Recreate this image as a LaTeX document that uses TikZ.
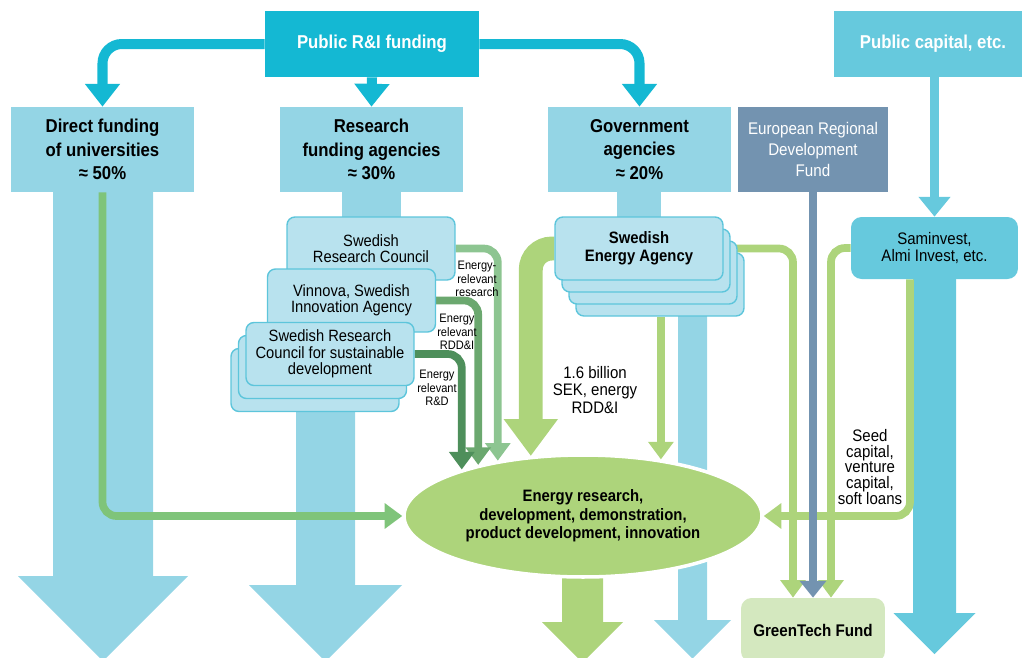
\documentclass[tikz,border=0pt]{standalone}
\usepackage{fontspec}
\setmainfont{Liberation Sans}[FakeStretch=0.9]
\usetikzlibrary{arrows.meta,shapes.geometric,calc}
\pgfdeclarelayer{bg}
\pgfdeclarelayer{links}
\pgfsetlayers{bg,links,main}
\definecolor{riblue}{HTML}{14B8D3}
\definecolor{capblue}{HTML}{66C9DD}
\definecolor{lightblue}{HTML}{94D5E5}
\definecolor{paleblue}{HTML}{B8E2EE}
\definecolor{rimblue}{HTML}{5DC5DB}
\definecolor{slate}{HTML}{7393B0}
\definecolor{leaf}{HTML}{ADD47B}
\definecolor{paleleaf}{HTML}{D4E8BF}
\definecolor{darkleaf}{HTML}{4E8F5B}
\definecolor{midleaf}{HTML}{6BA86F}
\definecolor{softleaf}{HTML}{8DC591}
\definecolor{grassleaf}{HTML}{7FC47A}
\begin{document}
\begin{tikzpicture}[
  x=0.02cm, y=-0.02cm,
  every node/.style={align=center, inner sep=0pt, font=\fontsize{9.5}{10}\selectfont},
  topbox/.style={minimum height=1.32cm, text=white, font=\bfseries\fontsize{10.6}{13}\selectfont},
  headbox/.style={fill=lightblue, minimum width=3.66cm, minimum height=1.7cm, font=\bfseries\fontsize{10.6}{13.3}\selectfont},
  agencybox/.style={fill=paleblue, draw=rimblue, line width=0.8pt, rounded corners=4.5pt,
    minimum width=3.36cm, minimum height=1.26cm, font=\fontsize{9.3}{9.3}\selectfont},
  fundarrow/.style={draw=riblue, line width=5.7pt, rounded corners=11pt, -{Triangle[width=19.3pt,length=13pt]}},
  thinarrow/.style={line width=4.4pt, rounded corners=8pt, -{Triangle[width=14pt,length=10pt]}},
  smalllabel/.style={font=\fontsize{7}{7.6}\selectfont},
  flowlabel/.style={font=\fontsize{9.5}{10.2}\selectfont}
]
\useasboundingbox (0,0) rectangle (1022,657);

% funding sources
\node[topbox, fill=riblue, minimum width=4.28cm] (pubri) at (372,44) {Public R\&I funding};
\node[topbox, fill=capblue, minimum width=3.96cm] (pubcap) at (933,44) {Public capital, etc.};

\node[headbox] (direct) at (102.5,149.5) {Direct funding\\of universities\\≈ 50\%};
\node[headbox] (rfa) at (371.5,149.5) {Research\\funding agencies\\≈ 30\%};
\node[headbox] (gov) at (639.5,149.5) {Government\\agencies\\≈ 20\%};
\node[headbox, fill=slate, minimum width=3cm, text=white, font=\fontsize{9.6}{12}\selectfont] (erdf) at (813,149.5) {European Regional\\Development\\Fund};

% research funding agencies
\node[agencybox] (src) at (371,248.5) {Swedish\\Research Council};
\node[agencybox] (vinnova) at (351.5,300.5) {Vinnova, Swedish\\Innovation Agency};
\node[agencybox] (srcsd2) at (315,380) {};
\node[agencybox] (srcsd1) at (322.5,367) {};
\node[agencybox] (srcsd) at (330,354) {Swedish Research\\Council for sustainable\\development};

% energy agency stack
\foreach \k in {3,2,1}
  \node[agencybox] (sea\k) at ({639+7*\k},{248.5+12*\k}) {};
\node[agencybox, font=\bfseries\fontsize{9.4}{10}\selectfont] (sea) at (639,248.5) {Swedish\\Energy Agency};

\node[fill=capblue, rounded corners=6pt, minimum width=3.34cm, minimum height=1.24cm] (saminvest) at (934.5,248) {Saminvest,\\Almi Invest, etc.};
\node[fill=paleleaf, rounded corners=6pt, minimum width=2.88cm, minimum height=1.28cm,
  font=\bfseries\fontsize{9.6}{10}\selectfont] (gtf) at (813,630) {GreenTech Fund};

% flow labels
\node[smalllabel] (lab1) at (477,279) {Energy-\\relevant\\research};
\node[smalllabel] (lab2) at (457,332) {Energy\\relevant\\RDD\&I};
\node[smalllabel] (lab3) at (437,388) {Energy\\relevant\\R\&D};
\node[flowlabel] (lab4) at (595,390) {1.6 billion\\SEK, energy\\RDD\&I};
\node[font=\fontsize{9.5}{9}\selectfont] (lab5) at (870,467) {Seed\\capital,\\venture\\capital,\\soft loans};

\begin{pgfonlayer}{bg}
  % wide flows
  \fill[lightblue] (342,190) rectangle (401,230);
  \fill[lightblue] (617,190) rectangle (661,230);
  \foreach \cx/\hw/\ytop/\yneck/\hh/\clr in {103/50/190/576/85/lightblue, 325.5/29.5/380/585/76.5/lightblue,
      692.5/14.5/300/620/38.5/lightblue, 934.5/21.5/270/613/41/capblue, 582.5/20.5/540/622/40.5/leaf}
    \fill[\clr] ({\cx-\hw},\ytop) -- ({\cx+\hw},\ytop) -- ({\cx+\hw},\yneck) -- ({\cx+\hh},\yneck)
      -- (\cx,{\yneck+\hh}) -- ({\cx-\hh},\yneck) -- ({\cx-\hw},\yneck) -- cycle;
  \node[ellipse, fill=leaf, draw=white, line width=2pt, minimum width=7.16cm, minimum height=2.44cm,
    font=\bfseries\fontsize{9.4}{10.5}\selectfont] (ell) at (583,516)
    {Energy research,\\development, demonstration,\\product development, innovation};
\end{pgfonlayer}

\begin{pgfonlayer}{links}
  \draw[fundarrow] (pubri.west) -| (direct.north);
  \draw[fundarrow] (pubri.south) -- (rfa.north);
  \draw[fundarrow] (pubri.east) -| (gov.north);
  \draw[capblue, line width=5pt, -{Triangle[width=17.6pt,length=11.3pt]}] (pubcap.south -| saminvest.north) -- (saminvest.north);
  \draw[thinarrow, leaf] ($(saminvest.south)+(-24.5,0)$) |- (ell.east);
  \draw[thinarrow, grassleaf] (direct.south) |- (ell.west);
  \draw[thinarrow, softleaf] (src.east) -| (ell.147);
  \draw[thinarrow, midleaf] (vinnova.east) -| (ell.154);
  \draw[thinarrow, darkleaf] (srcsd.east) -| (ell.159);
  \draw[leaf, line width=13.6pt, rounded corners=12pt, -{Triangle[width=29.5pt,length=21pt]}] (sea.west) -| (ell.131);
  \draw[thinarrow, leaf] (sea3.south -| ell.36) -- (ell.36);
  \draw[thinarrow, leaf] (sea.east) -| ($(gtf.north)+(-20,0)$);
  \draw[thinarrow, leaf] (saminvest.west) -| ($(gtf.north)+(18,0)$);
  \draw[slate, line width=4pt, -{Triangle[width=14.7pt,length=9.6pt]}] (erdf.south) -- (gtf.north);
\end{pgfonlayer}
\end{tikzpicture}
\end{document}
